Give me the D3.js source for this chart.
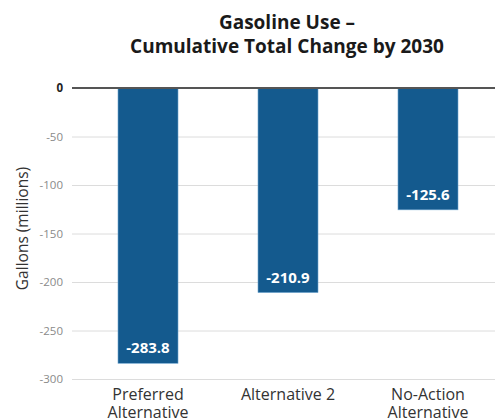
<!DOCTYPE html>
<html>
<head>
<meta charset="utf-8">
<script src="https://cdn.jsdelivr.net/npm/d3@7"></script>
<style>
  html, body { margin: 0; padding: 0; background: #fff; }
  svg { display: block; font-family: "Open Sans", "Noto Sans", sans-serif; }
</style>
</head>
<body>
<svg id="chart" width="495" height="420"></svg>
<script>
// Cumulative change in gasoline use by 2030, millions of gallons
const categories = [["Preferred", "Alternative"], ["Alternative 2"], ["No-Action", "Alternative"]];
const values = [-283.8, -210.9, -125.6];
const yTicks = [0, -50, -100, -150, -200, -250, -300];
const titleLines = ["Gasoline Use \u2013", "Cumulative Total Change by 2030"];
const yLabel = "Gallons (millions)";

const svg = d3.select("#chart");
const plotTop = 88, plotBottom = 379, plotLeft = 72, plotRight = 495;

// plain hyphen for negative numbers
const locale = d3.formatLocale({ decimal: ".", thousands: ",", grouping: [3], currency: ["$", ""], minus: "-" });
const fmtTick = locale.format("d");
const fmtValue = locale.format(".1f");

const y = d3.scaleLinear().domain([0, -300]).range([plotTop, plotBottom]);
const x = d3.scaleBand()
  .domain(d3.range(values.length))
  .range([72, 504])
  .paddingInner(0.5714)
  .paddingOuter(0.3286);

// title
svg.append("g").selectAll("text").data(titleLines).join("text")
  .attr("x", 287).attr("y", (d, i) => 29 + i * 24)
  .attr("text-anchor", "middle")
  .attr("font-size", 19).attr("font-weight", 700).attr("fill", "#1a1a1a")
  .text(d => d);

// gridlines and tick labels
const yAxis = d3.axisLeft(y).tickValues(yTicks).tickSize(0).tickPadding(9).tickFormat(fmtTick);
const gy = svg.append("g").attr("transform", `translate(${plotLeft},0)`).call(yAxis);
gy.select(".domain").remove();
gy.selectAll(".tick text")
  .attr("font-family", "'Open Sans', sans-serif")
  .attr("font-size", 11.5)
  .attr("fill", d => d === 0 ? "#222" : "#8a8a8a")
  .attr("font-weight", d => d === 0 ? 700 : 400);
gy.selectAll(".tick").append("line")
  .attr("x1", 0).attr("x2", plotRight - plotLeft)
  .attr("stroke", "#dcdcdc").attr("stroke-width", 1);
gy.selectAll(".tick").filter(d => d === 0).select("line").remove();

// bars
svg.append("g").selectAll("rect").data(values).join("rect")
  .attr("x", (d, i) => x(i))
  .attr("y", y(0))
  .attr("width", x.bandwidth())
  .attr("height", d => y(d) - y(0))
  .attr("fill", "#145a8e")
  .attr("stroke", "#6fa6cf").attr("stroke-width", 0.6);

// zero line
svg.append("line")
  .attr("x1", plotLeft).attr("x2", plotRight)
  .attr("y1", y(0)).attr("y2", y(0))
  .attr("stroke", "#555").attr("stroke-width", 2);

// value labels inside bar ends
svg.append("g").selectAll("text").data(values).join("text")
  .attr("x", (d, i) => x(i) + x.bandwidth() / 2)
  .attr("y", d => y(d) - 10)
  .attr("text-anchor", "middle")
  .attr("font-size", 15).attr("font-weight", 700).attr("fill", "#fff")
  .text(d => fmtValue(d));

// category labels
const cat = svg.append("g").selectAll("text").data(categories).join("text")
  .attr("x", (d, i) => x(i) + x.bandwidth() / 2)
  .attr("y", 400)
  .attr("text-anchor", "middle")
  .attr("font-size", 16).attr("fill", "#333");
cat.selectAll("tspan").data(d => d).join("tspan")
  .attr("x", function() { return this.parentNode.getAttribute("x"); })
  .attr("dy", (d, i) => i === 0 ? 0 : 18)
  .text(d => d);

// y-axis title
svg.append("text")
  .attr("transform", `translate(28,${(plotTop + plotBottom) / 2 - 5}) rotate(-90)`)
  .attr("text-anchor", "middle")
  .attr("font-size", 15.5).attr("fill", "#333")
  .text(yLabel);
</script>
</body>
</html>
